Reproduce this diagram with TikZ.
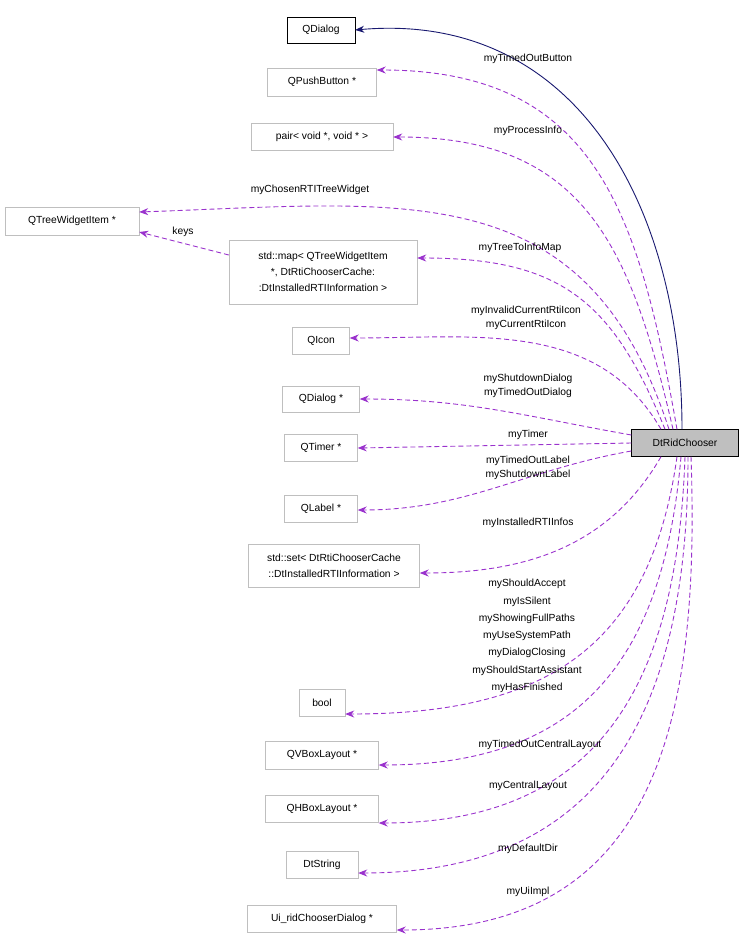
\documentclass[tikz,border=0pt]{standalone}
\usepackage{fontspec}
\setmainfont{Liberation Sans}
\usetikzlibrary{arrows.meta}
\definecolor{usecol}{HTML}{9A32CD}
\definecolor{inhcol}{HTML}{191970}
\definecolor{boxgray}{HTML}{BFBFBF}
\tikzset{%
  classbox/.style = {draw=boxgray, rectangle, align=center, inner sep=2pt,%
                     font=\fontsize{10.3}{11.5}\selectfont},%
  mainbox/.style  = {classbox, draw=black, fill=boxgray},%
  basebox/.style  = {classbox, draw=black},%
  usage/.style    = {usecol, dash pattern=on 5pt off 3pt, -{Stealth[length=9pt,width=7pt]}, line width=0.9pt},%
  inherit/.style  = {inhcol, -{Stealth[length=9pt,width=7pt]}, line width=0.9pt},%
  lbl/.style      = {font=\fontsize{10.3}{14}\selectfont, inner sep=0pt, align=center}%
}
\begin{document}
\begin{tikzpicture}[x=1pt,y=-1pt]
	\useasboundingbox (0,0) rectangle (744,950);
	% classes
	\node[basebox, minimum width=68pt, minimum height=26pt] (qdialog) at (321,30) {QDialog};
	\node[classbox, minimum width=109pt, minimum height=28pt] (qpush) at (322,82) {QPushButton *};
	\node[classbox, minimum width=142pt, minimum height=27pt] (pair) at (322,137) {pair< void *, void * >};
	\node[classbox, minimum width=134pt, minimum height=28pt] (qtwi) at (72,221) {QTreeWidgetItem *};
	\node[classbox, minimum width=188pt, minimum height=64pt, font=\fontsize{10.3}{16}\selectfont] (map) at (323,272)
		{std::map< QTreeWidgetItem\\ *, DtRtiChooserCache:\\:DtInstalledRTIInformation >};
	\node[classbox, minimum width=57pt, minimum height=27pt] (qicon) at (321,341) {QIcon};
	\node[classbox, minimum width=77pt, minimum height=26pt] (qdlgptr) at (321,399) {QDialog *};
	\node[classbox, minimum width=73pt, minimum height=27pt] (qtimer) at (321,448) {QTimer *};
	\node[classbox, minimum width=73pt, minimum height=27pt] (qlabel) at (321,509) {QLabel *};
	\node[classbox, minimum width=171pt, minimum height=43pt, font=\fontsize{10.3}{16}\selectfont] (set) at (334,566)
		{std::set< DtRtiChooserCache\\::DtInstalledRTIInformation >};
	\node[classbox, minimum width=46pt, minimum height=27pt] (bool) at (322,703) {bool};
	\node[classbox, minimum width=113pt, minimum height=28pt] (qvbox) at (322,755) {QVBoxLayout *};
	\node[classbox, minimum width=113pt, minimum height=27pt] (qhbox) at (322,809) {QHBoxLayout *};
	\node[classbox, minimum width=72pt, minimum height=27pt] (dtstr) at (322,865) {DtString};
	\node[classbox, minimum width=149pt, minimum height=27pt] (uiimpl) at (322,919) {Ui\_ridChooserDialog *};
	\node[mainbox, minimum width=107pt, minimum height=27pt] (rid) at (685,443) {DtRidChooser};
	% connectors
	\draw[inherit] (rid.north) ++(-3,0) to[out=90,in=5,looseness=1.1] (qdialog.east);
	\draw[usage] (rid.north) ++(-8,0) to[out=100,in=0,looseness=1.2] (qpush.east|-0,70);
	\draw[usage] (rid.north) ++(-12,0) to[out=103,in=0,looseness=1.2] (pair.east);
	\draw[usage] (rid.north) ++(-16,0) to[out=108,in=2,looseness=1.2] (qtwi.east|-0,212);
	\draw[usage] (map.west|-0,255) -- (qtwi.east|-0,232);
	\draw[usage] (rid.north) ++(-20,0) to[out=112,in=0,looseness=1.2] (map.east|-0,258);
	\draw[usage] (rid.north) ++(-24,0) to[out=120,in=0] (qicon.east|-0,338);
	\draw[usage] (rid.west) ++(0,-8) to[out=170,in=0] (qdlgptr.east);
	\draw[usage] (rid.west) -- (qtimer.east);
	\draw[usage] (rid.west) ++(0,8) to[out=190,in=0] (qlabel.east|-0,510);
	\draw[usage] (rid.south) ++(-24,0) to[out=240,in=0] (set.east|-0,573);
	\draw[usage] (rid.south) ++(-8,0) to[out=262,in=0,looseness=1.2] (bool.east|-0,714);
	\draw[usage] (rid.south) ++(-4,0) to[out=265,in=0,looseness=1.2] (qvbox.east|-0,765);
	\draw[usage] (rid.south) to[out=268,in=0,looseness=1.2] (qhbox.east|-0,823);
	\draw[usage] (rid.south) ++(3,0) to[out=270,in=0,looseness=1.2] (dtstr.east|-0,873);
	\draw[usage] (rid.south) ++(6,0) to[out=272,in=0,looseness=1.2] (uiimpl.east|-0,930);
	% labels
	\node[lbl] (l1) at (528,59) {myTimedOutButton};
	\node[lbl] (l2) at (528,131) {myProcessInfo};
	\node[lbl] (l3) at (310,190) {myChosenRTITreeWidget};
	\node[lbl] (l4) at (183,232) {keys};
	\node[lbl] (l5) at (520,248) {myTreeToInfoMap};
	\node[lbl] (l6) at (526,318) {myInvalidCurrentRtiIcon\\myCurrentRtiIcon};
	\node[lbl] (l7) at (528,386) {myShutdownDialog\\myTimedOutDialog};
	\node[lbl] (l8) at (528,435) {myTimer};
	\node[lbl] (l9) at (528,468) {myTimedOutLabel\\myShutdownLabel};
	\node[lbl] (l10) at (528,523) {myInstalledRTIInfos};
	\node[lbl, font=\fontsize{10.3}{17.3}\selectfont] (l11) at (527,636)
		{myShouldAccept\\myIsSilent\\myShowingFullPaths\\myUseSystemPath\\myDialogClosing\\myShouldStartAssistant\\myHasFinished};
	\node[lbl] (l12) at (540,745) {myTimedOutCentralLayout};
	\node[lbl] (l13) at (528,786) {myCentralLayout};
	\node[lbl] (l14) at (528,849) {myDefaultDir};
	\node[lbl] (l15) at (528,892) {myUiImpl};
\end{tikzpicture}
\end{document}
